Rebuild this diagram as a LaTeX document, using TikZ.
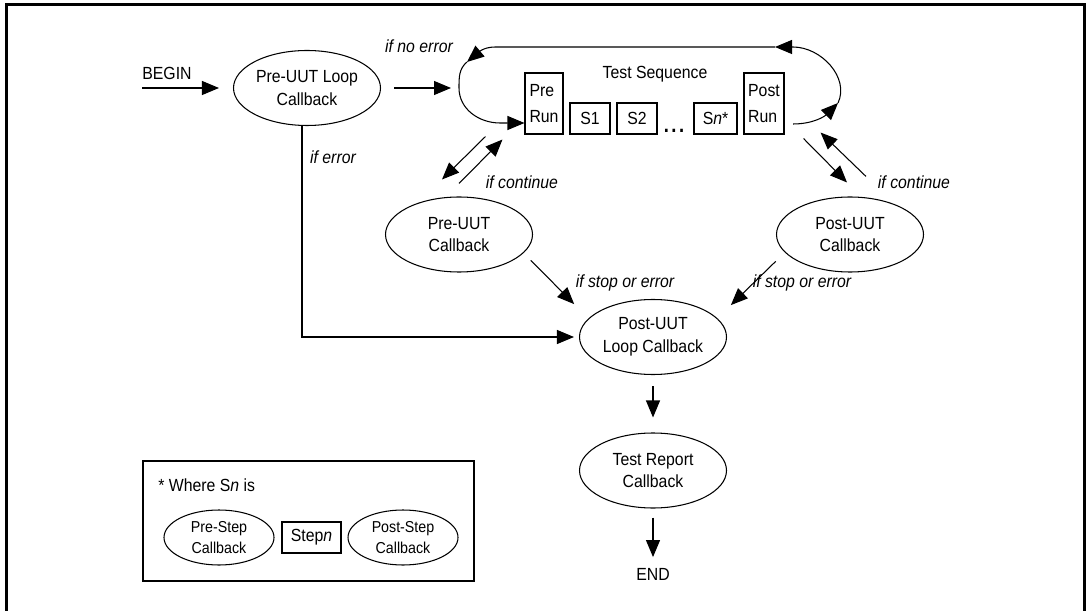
\documentclass[tikz,border=0pt]{standalone}
\usepackage{fontspec}
\setmainfont{Liberation Sans}[FakeStretch=0.9]
\usetikzlibrary{shapes.geometric,arrows.meta}

\begin{document}
\begin{tikzpicture}[line width=0.6pt]
        \tikzstyle{cb}=[ellipse, draw, align=center, inner sep=0pt, minimum width=2.94cm, minimum height=1.5cm, font={\fontsize{10}{13}\selectfont}]
        \tikzstyle{smallcb}=[ellipse, draw, align=center, inner sep=0pt, minimum width=2.2cm, minimum height=1.1cm, font={\fontsize{9}{11.5}\selectfont}]
        \tikzstyle{stepbox}=[rectangle, draw, inner sep=1pt, minimum width=0.8cm, minimum height=0.62cm]
        \tikzstyle{runbox}=[stepbox, align=left, minimum height=1.22cm, font={\fontsize{10}{15}\selectfont}]
        \tikzstyle{cond}=[font=\itshape]
        \tikzstyle{arr}=[-{Triangle[length=0.34cm,width=0.28cm]}]

        \useasboundingbox (0,0) rectangle (21.72,-12.22);
        \draw[line width=1.5pt] (0.13,-12.5) -- (0.13,-0.09) -- (21.69,-0.09) -- (21.69,-12.5);

        % main flow
        \node (begin) at (3.34,-1.46) {BEGIN};
        \node[cb] (loopcb) at (6.14,-1.76) {Pre-UUT Loop\\Callback};
        \node[cb] (precb) at (9.18,-4.69) {Pre-UUT\\Callback};
        \node[cb] (postcb) at (17.0,-4.69) {Post-UUT\\Callback};
        \node[cb] (looppost) at (13.06,-6.74) {Post-UUT\\Loop Callback};
        \node[cb] (report) at (13.06,-9.41) {Test Report\\Callback};
        \node (endn) at (13.06,-11.49) {END};

        % test sequence
        \node (seqlabel) at (13.1,-1.48) {Test Sequence};
        \node[runbox, minimum width=0.76cm] (prerun) at (10.88,-2.07) {Pre\\Run};
        \node[stepbox] (s1) at (11.8,-2.37) {S1};
        \node[stepbox] (s2) at (12.74,-2.37) {S2};
        \node[anchor=base, font=\LARGE] (dots) at (13.48,-2.66) {...};
        \node[stepbox, minimum width=0.86cm] (sn) at (14.31,-2.37) {S\textit{n}*};
        \node[runbox] (postrun) at (15.28,-2.07) {Post\\Run};

        \coordinate (beginpt) at (2.84,-1.76);
        \coordinate (postout) at (15.86,-2.48);
        \coordinate (rloop) at (16.76,-2.06);
        \coordinate (rtop) at (15.86,-0.94);
        \coordinate (toptip) at (15.5,-0.94);
        \coordinate (ltop) at (9.9,-0.94);
        \coordinate (ltip) at (9.34,-1.24);
        \coordinate (lside) at (9.18,-1.76);
        \coordinate (lbot) at (10.0,-2.46);

        \draw[arr, shorten >=0.28cm] (beginpt) -- (loopcb.west);
        \draw[arr, shorten >=0.16cm] ([xshift=0.26cm]loopcb.east) -- (lside);

        \draw[arr] (postout) to[out=0,in=225] (rloop);
        \draw[arr] (rloop) to[out=65,in=0] (rtop) -- (toptip);
        \draw[arr] (toptip) -- (ltop) to[out=180,in=40] (ltip);
        \draw[arr] (ltip) to[out=220,in=90] (lside) to[out=270,in=180] (lbot) -- (prerun.west |- lbot);

        \draw[arr] ([shift={(-0.78,-0.04)}]prerun.south west) -- ([shift={(-0.34,0.34)}]precb.north);
        \draw[arr] ([shift={(0,0.26)}]precb.north) -- ([shift={(-0.44,-0.1)}]prerun.south west);
        \draw[arr] ([shift={(0.38,-0.08)}]postrun.south east) -- ([shift={(-0.06,0.28)}]postcb.north);
        \draw[arr] ([shift={(0.32,0.4)}]postcb.north) -- ([shift={(0.72,0.04)}]postrun.south east);

        \draw[arr] ([shift={(0.39,0.02)}]precb.south east) -- ([shift={(-0.53,0.12)}]looppost.north west);
        \draw[arr] ([shift={(-0.44,0)}]postcb.south west) -- ([shift={(0.51,0.1)}]looppost.north east);
        \draw[arr] ([xshift=-0.1cm]loopcb.south) |- ([xshift=-0.1cm]looppost.west);

        \draw[arr, shorten <=0.22cm, shorten >=0.3cm] (looppost) -- (report);
        \draw[arr, shorten <=0.18cm, shorten >=0.1cm] (report) -- (endn);

        % labels
        \node[cond] (ifnoerr) at (8.38,-0.92) {if no error};
        \node[cond] (iferr) at (6.66,-3.14) {if error};
        \node[cond] (contl) at (10.44,-3.64) {if continue};
        \node[cond] (contr) at (18.28,-3.64) {if continue};
        \node[cond] (stopl) at (12.5,-5.66) {if stop or error};
        \node[cond] (stopr) at (16.04,-5.66) {if stop or error};

        % legend
        \node[draw, minimum width=6.62cm, minimum height=2.4cm] (legend) at (6.17,-10.42) {};
        \node[anchor=west] (where) at (3.04,-9.71) {* Where S\textit{n} is};
        \node[smallcb] (prestep) at (4.38,-10.75) {Pre-Step\\Callback};
        \node[stepbox, minimum width=1.18cm] (stepn) at (6.23,-10.75) {Step\textit{n}};
        \node[smallcb] (poststep) at (8.06,-10.75) {Post-Step\\Callback};
\end{tikzpicture}
\end{document}
